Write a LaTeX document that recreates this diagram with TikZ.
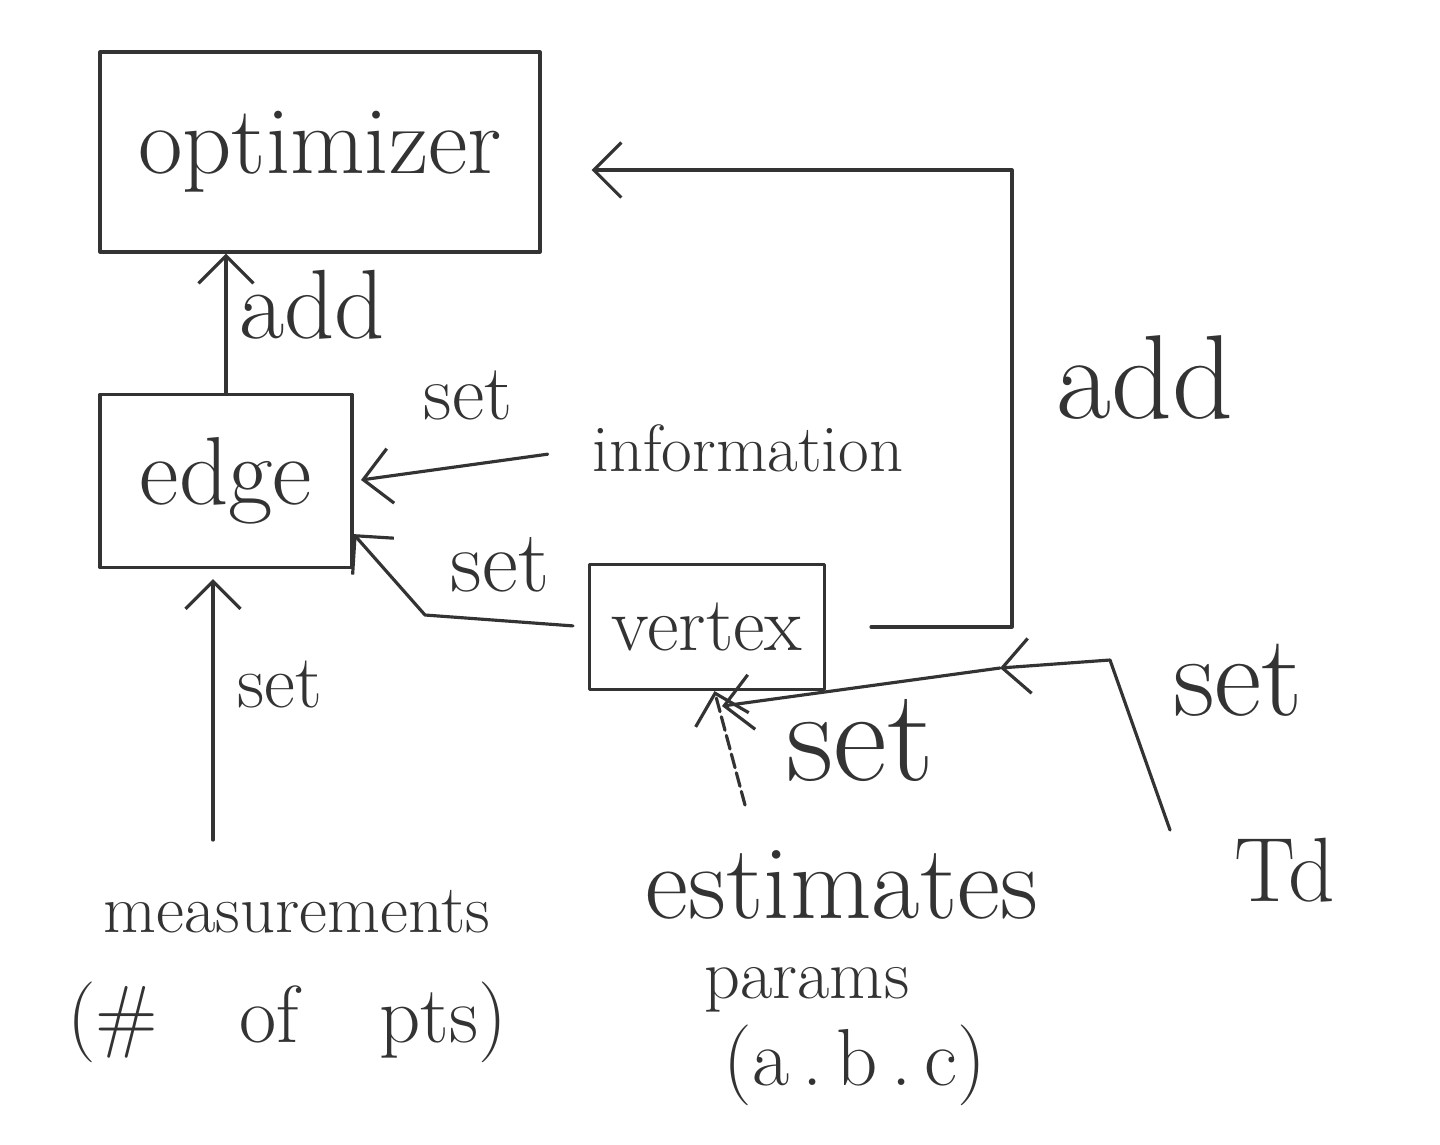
\documentclass[tikz,border=0pt]{standalone}
\usepackage{fontspec}
\usetikzlibrary{arrows.meta}
\definecolor{ink}{HTML}{333333}
\tikzset{
  ink/.style={draw=ink, line width=1.8pt, line cap=round, line join=round},
  boxnode/.style={ink, rectangle, inner sep=0pt, text=ink},
  lbl/.style={text=ink, inner sep=0pt},
  arr/.style={ink, -{Straight Barb[length=0.55cm,width=1.1cm,line width=1.8pt]}},
  fs/.style={font=\fontsize{#1}{#1}\selectfont}
}
\begin{document}
\begin{tikzpicture}[x=0.02cm,y=-0.02cm]
\useasboundingbox[fill=white] (0,0) rectangle (1440,1144);
% boxes
\node[boxnode, minimum width=8.8cm, minimum height=4cm, fs=55pt] (opt) at (320,152) {optimizer};
\node[boxnode, minimum width=5.04cm, minimum height=3.46cm, fs=55pt] (edge) at (226,481) {edge};
\node[boxnode, minimum width=4.7cm, minimum height=2.5cm, fs=44pt] (vtx) at (707,627) {vertex};
% texts
\node[lbl, fs=38pt] (info) at (748,448) {information};
\node[lbl, fs=39pt] (meas) at (297,912) {measurements};
\node[lbl, fs=46pt] (pts) at (287,1022) {(\#\quad of\quad pts)};
\node[lbl, fs=60pt] (est) at (842,885) {estimates};
\node[lbl, fs=40pt] (params) at (807,990) {params};
\node[lbl, fs=46pt] (abc) at (855,1065) {(a\,.\,b\,.\,c)};
\node[lbl, fs=52pt] (td) at (1285,870) {Td};
% labels
\node[lbl, fs=56pt] (add1) at (312,305) {add};
\node[lbl, fs=68pt] (add2) at (1145,378) {add};
\node[lbl, fs=45pt] (set1) at (468,395) {set};
\node[lbl, fs=50pt] (set2) at (500,565) {set};
\node[lbl, fs=43pt] (set3) at (280,685) {set};
\node[lbl, fs=75pt] (set4) at (860,740) {set};
\node[lbl, fs=66pt] (set5) at (1238,680) {set};
% coordinates
\coordinate (rt) at (1012,170);
\coordinate (c1) at (425,615);
\coordinate (m1) at (213,840);
\coordinate (e1) at (745,805);
\coordinate (t1) at (1170,830);
\coordinate (t2) at (1110,660);
\coordinate (t3) at (1000,668);
% connectors
\draw[arr] (edge.north) -- (edge.north |- opt.south);
\draw[arr, shorten >=1cm] ([xshift=0.9cm]vtx.east) -| (rt) -- (opt.east |- rt);
\draw[arr, shorten <=0.9cm, shorten >=0.15cm] (info.west) -- (edge.east);
\draw[arr, shorten <=0.3cm] (vtx.west) -- (c1) -- ([yshift=0.7cm]edge.south east);
\draw[arr, shorten >=0.2cm] (m1) -- (m1 |- edge.south);
\draw[arr, dashed, dash pattern=on 8pt off 3pt] (e1) -- ([xshift=0.15cm]vtx.south);
\draw[arr] (t1) -- (t2) -- (t3);
\draw[arr] (t3) -- ([xshift=0.3cm,yshift=-0.3cm]vtx.south);
\end{tikzpicture}
\end{document}
